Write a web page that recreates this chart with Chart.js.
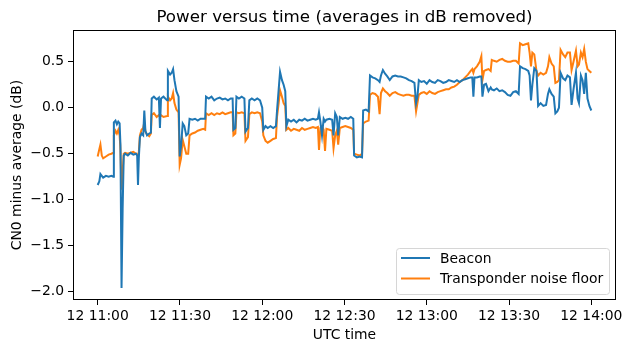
<!DOCTYPE html>
<html>
<head>
<meta charset="utf-8">
<script src="https://cdn.jsdelivr.net/npm/chart.js@4.4.0/dist/chart.umd.min.js"></script>
<style>
  body { margin: 0; background: #fff; }
  canvas { display: block; }
</style>
</head>
<body>
<canvas id="powerChart" width="632" height="353"></canvas>
<script>
// minutes after 11:00 UTC on the 12th
const minutes = [
    0, 0.6, 1.0, 1.5, 2, 3, 4, 5, 5.7, 5.9,
    6.5, 7, 7.5, 8.0, 8.3, 8.7, 9.1, 9.5, 10, 11,
    12, 13, 14, 14.4, 14.7, 15.0, 15.4, 16, 16.6, 17.0,
    17.4, 18, 18.8, 19.4, 19.7, 20.5, 21.5, 22.3, 22.7, 23.1,
    24, 25.3, 25.6, 26.4, 27, 27.5, 28, 28.7, 29.5, 29.9,
    30.4, 31, 31.6, 32.3, 33, 33.5, 34.5, 35.5, 36.5, 37.5,
    38.5, 39.2, 39.5, 40.5, 41.5, 42.5, 43.5, 44.5, 45.5, 46.5,
    47.5, 48.5, 49.2, 49.5, 50.2, 50.6, 51.5, 52.5, 53.5, 53.9,
    54.8, 55.3, 56.2, 57.2, 58.2, 59.2, 60, 60.4, 61.2, 62,
    63, 64, 65, 65.4, 66, 66.5, 67.2, 67.8, 68.4, 68.8,
    69.5, 70.5, 71.5, 72.5, 73.5, 74.5, 75.5, 76.5, 77.5, 78.5,
    79.5, 80.3, 80.7, 81.2, 81.8, 82.4, 82.9, 83.4, 84.5, 85.5,
    86, 86.6, 87.2, 87.7, 88.3, 89.3, 90.3, 91.3, 92.3, 93.2,
    93.5, 94.5, 95.5, 96.4, 96.8, 97.8, 98.8, 99.3, 100.2, 101.2,
    102.2, 102.8, 103.3, 104, 104.8, 105.6, 106.5, 107.5, 108.5, 109.5,
    110.5, 111.5, 112.5, 113.5, 114.5, 115.5, 116.1, 116.6, 117.1, 118,
    119, 120, 121, 122, 123, 124, 125, 126, 127, 128,
    129, 130, 131, 132, 133, 134, 135, 136, 136.6, 137,
    137.4, 138.3, 139.3, 139.9, 140.3, 140.9, 141.6, 142.5, 143.3, 143.7,
    144.5, 145.5, 146.5, 147.5, 148.5, 149.5, 150.5, 151.5, 152.5, 153.5,
    154, 155, 156, 157, 157.5, 158, 158.5, 159.2, 160, 160.6,
    161.5, 162.5, 163.5, 164.2, 164.7, 165.5, 166.3, 166.9, 167.6, 168.2,
    168.8, 169.7, 170.5, 171.3, 172.2, 172.8, 173.5, 174.4, 175, 175.5,
    176.2, 176.8, 177.4, 178, 178.6, 179.3, 180
];

const beacon = [
    -0.84, -0.80, -0.72, -0.74, -0.76, -0.74, -0.75, -0.74, -0.75, -0.16,
    -0.14, -0.18, -0.15, -0.17, -0.40, -1.96, -1.10, -0.52, -0.50, -0.52,
    -0.49, -0.51, -0.50, -0.52, -0.84, -0.55, -0.32, -0.28, -0.30, -0.03,
    -0.25, -0.30, -0.28, -0.27, 0.10, 0.12, 0.09, 0.11, -0.22, 0.10,
    0.12, 0.08, 0.40, 0.36, 0.38, 0.42, 0.30, 0.18, 0.12, -0.53,
    -0.42, -0.17, -0.20, -0.30, -0.28, -0.12, -0.13, -0.12, -0.14, -0.12,
    -0.12, -0.12, 0.12, 0.10, 0.12, 0.08, 0.10, 0.11, 0.09, 0.10,
    0.08, 0.10, 0.10, -0.24, -0.22, 0.12, 0.10, 0.12, 0.10, -0.26,
    -0.22, 0.08, 0.10, 0.08, 0.10, 0.08, 0.00, -0.24, -0.20, -0.22,
    -0.20, -0.22, -0.20, -0.03, 0.20, 0.39, 0.30, 0.25, 0.18, -0.20,
    -0.13, -0.15, -0.13, -0.16, -0.13, -0.14, -0.12, -0.14, -0.13, -0.12,
    -0.13, -0.12, -0.05, -0.15, -0.30, -0.12, -0.15, -0.13, -0.12, -0.13,
    -0.30, -0.06, -0.10, -0.30, -0.10, -0.12, -0.11, -0.12, -0.10, -0.12,
    -0.52, -0.54, -0.53, -0.54, -0.03, -0.02, -0.04, 0.35, 0.33, 0.32,
    0.30, 0.28, 0.35, 0.41, 0.37, 0.34, 0.30, 0.34, 0.35, 0.34,
    0.34, 0.33, 0.32, 0.30, 0.29, 0.27, 0.05, 0.12, 0.30, 0.28,
    0.29, 0.26, 0.30, 0.28, 0.27, 0.30, 0.29, 0.27, 0.28, 0.30,
    0.29, 0.28, 0.30, 0.28, 0.30, 0.31, 0.32, 0.33, 0.33, 0.12,
    0.33, 0.33, 0.34, 0.34, 0.12, 0.25, 0.26, 0.18, 0.22, 0.20,
    0.19, 0.21, 0.18, 0.19, 0.17, 0.14, 0.13, 0.17, 0.18, 0.15,
    0.45, 0.43, 0.42, 0.40, 0.35, 0.08, 0.25, 0.43, 0.40, 0.02,
    0.05, 0.02, 0.03, 0.15, 0.20, 0.15, 0.12, -0.06, -0.04, 0.00,
    0.38, 0.32, 0.30, 0.35, 0.33, 0.03, 0.20, 0.38, 0.10, 0.05,
    0.35, 0.30, 0.15, 0.38, 0.10, 0.02, -0.03
];

const noiseFloor = [
    -0.53, -0.45, -0.40, -0.52, -0.55, -0.53, -0.51, -0.50, -0.49, -0.30,
    -0.25, -0.28, -0.24, -0.30, -0.45, -0.89, -0.70, -0.50, -0.49, -0.50,
    -0.49, -0.48, -0.50, -0.51, -0.52, -0.48, -0.30, -0.24, -0.22, -0.16,
    -0.26, -0.29, -0.31, -0.28, -0.08, -0.06, -0.10, -0.08, -0.10, -0.08,
    -0.10, -0.09, 0.12, 0.08, 0.10, 0.16, 0.05, -0.02, -0.05, -0.62,
    -0.55, -0.35, -0.42, -0.50, -0.50, -0.30, -0.28, -0.27, -0.25, -0.24,
    -0.23, -0.24, -0.06, -0.08, -0.06, -0.08, -0.06, -0.07, -0.05, -0.07,
    -0.06, -0.05, -0.05, -0.30, -0.28, -0.05, -0.06, -0.05, -0.06, -0.36,
    -0.32, -0.07, -0.05, -0.06, -0.05, -0.06, -0.15, -0.30, -0.36, -0.38,
    -0.36, -0.34, -0.33, -0.10, 0.05, 0.19, 0.12, 0.05, 0.02, -0.24,
    -0.22, -0.25, -0.23, -0.24, -0.25, -0.22, -0.24, -0.23, -0.22, -0.21,
    -0.22, -0.21, -0.46, -0.22, -0.20, -0.24, -0.47, -0.23, -0.24, -0.25,
    -0.44, -0.30, -0.25, -0.40, -0.22, -0.21, -0.20, -0.21, -0.22, -0.24,
    -0.50, -0.51, -0.52, -0.50, -0.17, -0.15, -0.14, 0.14, 0.16, 0.15,
    0.12, -0.07, 0.16, 0.21, 0.18, 0.16, 0.13, 0.16, 0.17, 0.15,
    0.14, 0.13, 0.14, 0.14, 0.13, 0.13, -0.04, 0.05, 0.14, 0.16,
    0.17, 0.15, 0.18, 0.16, 0.15, 0.17, 0.18, 0.19, 0.20, 0.20,
    0.22, 0.23, 0.25, 0.28, 0.30, 0.33, 0.36, 0.40, 0.42, 0.38,
    0.42, 0.45, 0.50, 0.56, 0.30, 0.40, 0.41, 0.42, 0.40, 0.52,
    0.51, 0.50, 0.52, 0.53, 0.51, 0.50, 0.50, 0.51, 0.51, 0.48,
    0.70, 0.68, 0.69, 0.70, 0.60, 0.45, 0.60, 0.58, 0.40, 0.35,
    0.38, 0.36, 0.38, 0.45, 0.55, 0.48, 0.45, 0.27, 0.28, 0.30,
    0.63, 0.58, 0.55, 0.60, 0.60, 0.41, 0.50, 0.62, 0.45, 0.47,
    0.60, 0.55, 0.64, 0.50, 0.42, 0.40, 0.38
];

const xTicks = [0, 30, 60, 90, 120, 150, 180];
const yTicks = [-2.0, -1.5, -1.0, -0.5, 0.0, 0.5];
const seriesNames = ['Beacon', 'Transponder noise floor'];
const seriesColors = ['#1f77b4', '#ff7f0e'];

const FONT = 'DejaVu Sans';

function toPoints(values) {
    return values.map((v, i) => ({ x: minutes[i], y: v }));
}

function timeLabel(m) {
    const h = 11 + Math.floor(m / 60);
    const mm = m % 60;
    return '12 ' + h + ':' + (mm < 10 ? '0' : '') + mm;
}

// title, axes frame and legend box drawn like matplotlib
const framePlugin = {
    id: 'frame',
    afterDraw(chart) {
        const ctx = chart.ctx;
        const a = chart.chartArea;
        ctx.save();

        ctx.strokeStyle = '#000';
        ctx.lineWidth = 1;
        ctx.strokeRect(a.left + 0.5, a.top + 0.5, a.right - a.left - 1, a.bottom - a.top - 1);

        ctx.fillStyle = '#000';
        ctx.font = '16.7px "' + FONT + '"';
        ctx.textAlign = 'center';
        ctx.textBaseline = 'alphabetic';
        ctx.fillText('Power versus time (averages in dB removed)', (a.left + a.right) / 2, 22);

        // legend, lower right
        const bx = 396, by = 248, bw = 213, bh = 46;
        ctx.beginPath();
        ctx.roundRect(bx + 0.5, by + 0.5, bw, bh, 3);
        ctx.fillStyle = 'rgba(255,255,255,0.8)';
        ctx.fill();
        ctx.strokeStyle = '#d6d6d6';
        ctx.stroke();

        ctx.font = '13.9px "' + FONT + '"';
        ctx.textAlign = 'left';
        ctx.textBaseline = 'middle';
        seriesNames.forEach((name, i) => {
            const y = by + 10 + i * 20.5;
            ctx.strokeStyle = seriesColors[i];
            ctx.lineWidth = 2;
            ctx.beginPath();
            ctx.moveTo(bx + 5, y);
            ctx.lineTo(bx + 34, y);
            ctx.stroke();
            ctx.fillStyle = '#000';
            ctx.fillText(name, bx + 44, y + 1);
        });
        ctx.restore();
    }
};

document.addEventListener('DOMContentLoaded', function() {
    const ctx = document.getElementById('powerChart').getContext('2d');
    new Chart(ctx, {
        type: 'line',
        data: {
            datasets: [{
                label: seriesNames[0],
                data: toPoints(beacon),
                borderColor: seriesColors[0],
                borderWidth: 2,
                pointRadius: 0,
                tension: 0
            }, {
                label: seriesNames[1],
                data: toPoints(noiseFloor),
                borderColor: seriesColors[1],
                borderWidth: 2,
                pointRadius: 0,
                tension: 0
            }]
        },
        options: {
            responsive: false,
            animation: false,
            layout: {
                padding: { top: 30, right: 16, bottom: 0, left: 0 }
            },
            plugins: {
                legend: { display: false },
                tooltip: { enabled: false }
            },
            scales: {
                x: {
                    type: 'linear',
                    min: -9,
                    max: 189,
                    afterBuildTicks: (scale) => { scale.ticks = xTicks.map(v => ({ value: v })); },
                    afterFit: (scale) => { scale.height = 53; },
                    border: { display: false },
                    grid: {
                        drawOnChartArea: false,
                        drawTicks: true,
                        tickLength: 5,
                        color: '#000'
                    },
                    ticks: {
                        color: '#000',
                        padding: 3,
                        maxRotation: 0,
                        font: { family: FONT, size: 13.9 },
                        callback: (v) => timeLabel(v)
                    },
                    title: {
                        display: true,
                        text: 'UTC time',
                        color: '#000',
                        font: { family: FONT, size: 13.9 },
                        padding: { top: 0, bottom: 9.5 }
                    }
                },
                y: {
                    min: -2.09,
                    max: 0.845,
                    afterBuildTicks: (scale) => { scale.ticks = yTicks.map(v => ({ value: v })); },
                    afterFit: (scale) => { scale.width = 73; },
                    border: { display: false },
                    grid: {
                        drawOnChartArea: false,
                        drawTicks: true,
                        tickLength: 5,
                        color: '#000'
                    },
                    ticks: {
                        color: '#000',
                        padding: 4,
                        font: { family: FONT, size: 13.9 },
                        callback: (v) => v.toFixed(1).replace('-', '\u2212')
                    },
                    title: {
                        display: true,
                        text: 'CN0 minus average (dB)',
                        color: '#000',
                        font: { family: FONT, size: 13.9 },
                        padding: { top: 9.5, bottom: 0 }
                    }
                }
            }
        },
        plugins: [framePlugin]
    });
});
</script>
</body>
</html>
